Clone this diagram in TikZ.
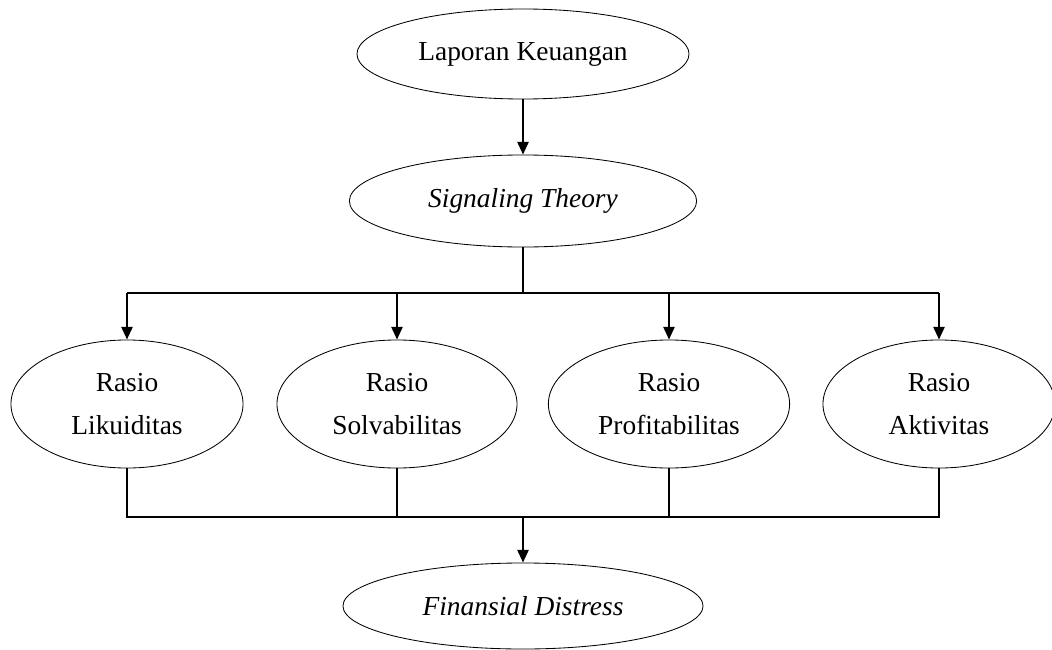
\documentclass[tikz,border=0pt]{standalone}
\usepackage{fontspec}
\setmainfont{Liberation Serif}
\usetikzlibrary{arrows.meta,shapes.geometric}

\begin{document}
\begin{tikzpicture}[
  x=0.025cm, y=-0.025cm,
  blob/.style={ellipse, draw, line width=0.6pt, inner sep=0pt, align=center,
    font=\fontsize{19.5}{31}\selectfont},
  rasio/.style={blob, minimum width=5.9cm, minimum height=3.2cm},
  link/.style={line width=1.6pt},
  >={Triangle[length=3.2mm,width=2.8mm]}
]
\useasboundingbox (0,0) rectangle (1052,650);

\node[blob, minimum width=8.3cm, minimum height=2.25cm] (laporan) at (523,54) {Laporan Keuangan};
\node[blob, minimum width=8.68cm, minimum height=2.3cm] (signal) at (523,201) {\textit{Signaling Theory}};

\node[rasio, minimum width=5.8cm] (likuid) at (127,404) {Rasio\\ Likuiditas};
\node[rasio, minimum width=6cm] (solva) at (397,404) {Rasio\\ Solvabilitas};
\node[rasio, minimum width=6.03cm] (profit) at (669,404) {Rasio\\ Profitabilitas};
\node[rasio, minimum width=5.8cm] (aktiv) at (939,404) {Rasio\\ Aktivitas};

\node[blob, minimum width=9cm, minimum height=2.15cm] (distress) at (523,606) {\textit{Finansial Distress}};

% cabang atas
\coordinate (split) at (523,293);
\coordinate (splitL) at (likuid.north |- split);
\coordinate (splitR) at (aktiv.north |- split);
\draw[link, ->] (laporan) -- (signal);
\draw[link] (signal) -- (split);
\draw[link] (splitL) -- (splitR);
\draw[link, ->] (splitL) -- (likuid);
\draw[link, ->] (solva.north |- split) -- (solva);
\draw[link, ->] (profit.north |- split) -- (profit);
\draw[link, ->] (splitR) -- (aktiv);

% gabungan bawah
\coordinate (join) at (523,517);
\coordinate (joinL) at (likuid.south |- join);
\coordinate (joinR) at (aktiv.south |- join);
\draw[link] (likuid) -- (joinL) -- (joinR) -- (aktiv);
\draw[link] (solva) -- (solva.south |- join);
\draw[link] (profit) -- (profit.south |- join);
\draw[link, ->] (join) -- (distress);

\end{tikzpicture}
\end{document}
